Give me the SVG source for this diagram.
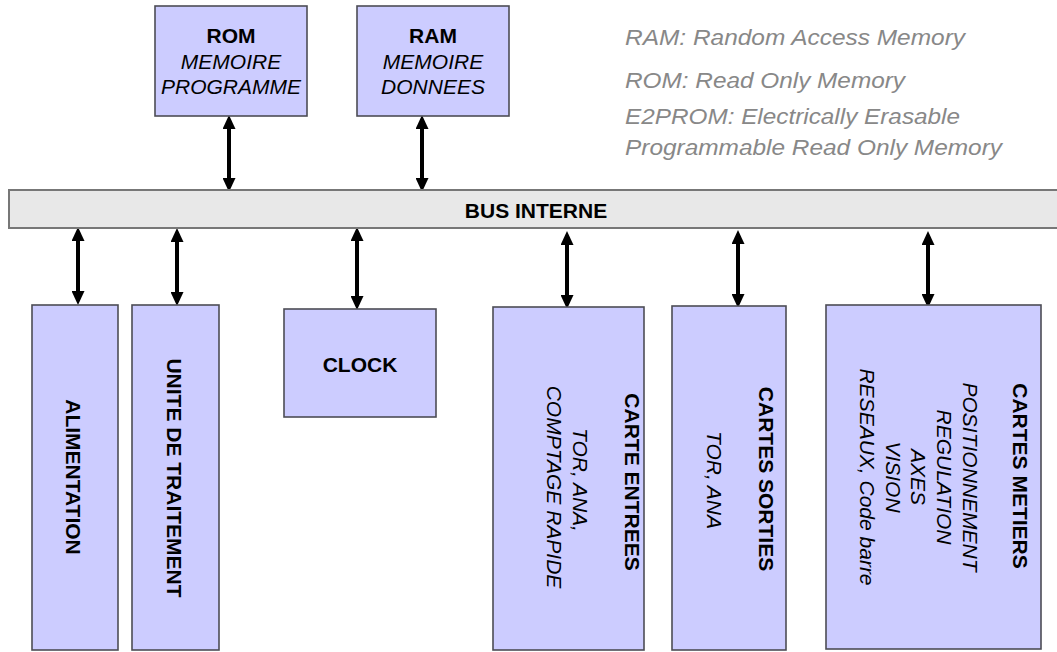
<svg xmlns="http://www.w3.org/2000/svg" width="1057" height="652" viewBox="0 0 1057 652">
<style>
.box{fill:#ccccff;stroke:#4d4d55;stroke-width:1.6}
.bus{fill:#e8e8e8;stroke:#777;stroke-width:2}
.b{font-family:"Liberation Sans",Arial,sans-serif;font-weight:bold;font-size:21px;fill:#000}
.i{font-family:"Liberation Sans",Arial,sans-serif;font-style:italic;font-size:21px;fill:#000}
.leg{font-family:"Liberation Sans",Arial,sans-serif;font-style:italic;font-size:22.5px;fill:#888}
.arr{stroke:#000;stroke-width:4;fill:none;marker-start:url(#ah);marker-end:url(#ah)}
</style>
<defs>
<marker id="ah" markerUnits="userSpaceOnUse" markerWidth="14" markerHeight="13" viewBox="0 0 14 13" refX="4" refY="6.5" orient="auto-start-reverse">
<path d="M0,0 L14,6.5 L0,13 z" fill="#000"/>
</marker>
</defs>
<rect width="1057" height="652" fill="#fff"/>

<g id="legend">
<text class="leg" x="625" y="45" textLength="340" lengthAdjust="spacingAndGlyphs">RAM: Random Access Memory</text>
<text class="leg" x="625" y="88" textLength="280" lengthAdjust="spacingAndGlyphs">ROM: Read Only Memory</text>
<text class="leg" x="625" y="124" textLength="335" lengthAdjust="spacingAndGlyphs">E2PROM: Electrically Erasable</text>
<text class="leg" x="625" y="155" textLength="377" lengthAdjust="spacingAndGlyphs">Programmable Read Only Memory</text>
</g>

<g id="connectors">
<line class="arr" x1="229" y1="125" x2="229" y2="182"/>
<line class="arr" x1="422" y1="125" x2="422" y2="182"/>
<line class="arr" x1="78" y1="237" x2="78" y2="295"/>
<line class="arr" x1="177" y1="238" x2="177" y2="296"/>
<line class="arr" x1="357" y1="237" x2="357" y2="300"/>
<line class="arr" x1="567" y1="241" x2="567" y2="299"/>
<line class="arr" x1="738" y1="240" x2="738" y2="298"/>
<line class="arr" x1="928" y1="241" x2="928" y2="298"/>
</g>

<g id="rom">
<rect class="box" x="155" y="6" width="152" height="110"/>
<text class="b" x="231" y="43" text-anchor="middle">ROM</text>
<text class="i" x="231" y="69" text-anchor="middle">MEMOIRE</text>
<text class="i" x="231" y="94" text-anchor="middle">PROGRAMME</text>
</g>

<g id="ram">
<rect class="box" x="357" y="6" width="152" height="110"/>
<text class="b" x="433" y="43" text-anchor="middle">RAM</text>
<text class="i" x="433" y="69" text-anchor="middle">MEMOIRE</text>
<text class="i" x="433" y="94" text-anchor="middle">DONNEES</text>
</g>

<g id="bus">
<rect class="bus" x="9" y="190" width="1060" height="38"/>
<text class="b" x="536" y="218" text-anchor="middle">BUS INTERNE</text>
</g>

<g id="alimentation">
<rect class="box" x="32" y="305" width="86" height="345"/>
<text class="b" transform="translate(66,477) rotate(90)" text-anchor="middle">ALIMENTATION</text>
</g>

<g id="unite">
<rect class="box" x="132" y="305" width="87" height="345"/>
<text class="b" transform="translate(167,478) rotate(90)" text-anchor="middle">UNITE DE TRAITEMENT</text>
</g>

<g id="clock">
<rect class="box" x="284" y="309" width="152" height="108"/>
<text class="b" x="360" y="372" text-anchor="middle">CLOCK</text>
</g>

<g id="carte-entrees">
<rect class="box" x="493" y="307" width="151" height="343"/>
<text class="b" transform="translate(625,482) rotate(90)" text-anchor="middle">CARTE ENTREES</text>
<text class="i" transform="translate(573,480) rotate(90)" text-anchor="middle">TOR, ANA,</text>
<text class="i" transform="translate(547,487) rotate(90)" text-anchor="middle">COMPTAGE RAPIDE</text>
</g>

<g id="cartes-sorties">
<rect class="box" x="672" y="306" width="114" height="344"/>
<text class="b" transform="translate(759,479) rotate(90)" text-anchor="middle">CARTES SORTIES</text>
<text class="i" transform="translate(707,480) rotate(90)" text-anchor="middle">TOR, ANA</text>
</g>

<g id="cartes-metiers">
<rect class="box" x="826" y="305" width="215" height="344"/>
<text class="b" transform="translate(1013,476) rotate(90)" text-anchor="middle">CARTES METIERS</text>
<text class="i" transform="translate(963,477) rotate(90)" text-anchor="middle">POSITIONNEMENT</text>
<text class="i" transform="translate(937,477) rotate(90)" text-anchor="middle">REGULATION</text>
<text class="i" transform="translate(911,477) rotate(90)" text-anchor="middle">AXES</text>
<text class="i" transform="translate(886,477) rotate(90)" text-anchor="middle">VISION</text>
<text class="i" transform="translate(860,477) rotate(90)" text-anchor="middle">RESEAUX, Code barre</text>
</g>
</svg>
